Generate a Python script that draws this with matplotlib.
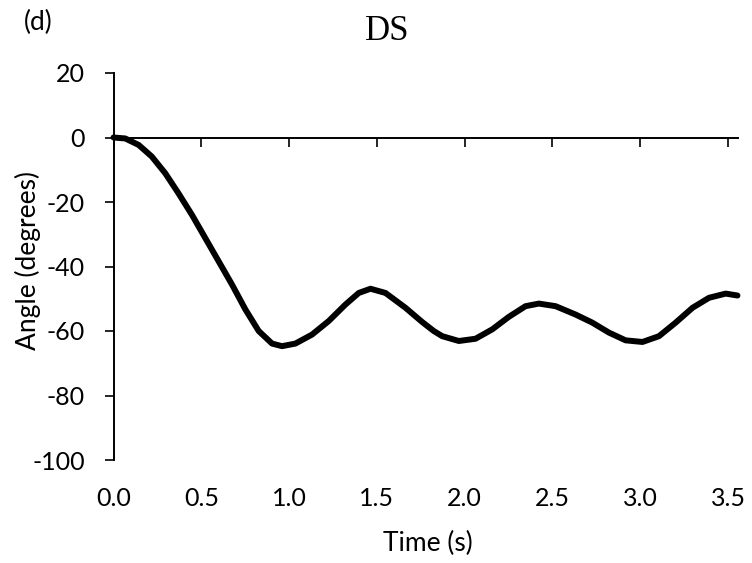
import matplotlib
matplotlib.use("Agg")
import matplotlib.pyplot as plt

# ---- data ----
time_s = [0.0, 0.067, 0.143, 0.218, 0.295, 0.370, 0.447, 0.523, 0.599, 0.675,
          0.751, 0.827, 0.903, 0.960, 1.036, 1.131, 1.226, 1.321, 1.397, 1.464,
          1.549, 1.663, 1.758, 1.824, 1.872, 1.967, 2.062, 2.157, 2.252, 2.347,
          2.423, 2.518, 2.632, 2.727, 2.822, 2.917, 3.013, 3.107, 3.202, 3.298,
          3.392, 3.487, 3.554]
angle_deg = [0.0, -0.3, -2.3, -5.9, -11.1, -17.3, -24.0, -31.2, -38.4, -45.6,
             -53.3, -60.0, -63.9, -64.7, -63.9, -61.1, -56.9, -51.8, -48.2, -46.9,
             -48.2, -52.8, -57.2, -60.0, -61.6, -63.1, -62.4, -59.5, -55.6, -52.3,
             -51.5, -52.3, -54.9, -57.4, -60.5, -62.9, -63.4, -61.6, -57.4, -52.8,
             -49.7, -48.4, -49.0]

x_ticks = [0.0, 0.5, 1.0, 1.5, 2.0, 2.5, 3.0, 3.5]
x_tick_labels = ["0.0", "0.5", "1.0", "1.5", "2.0", "2.5", "3.0", "3.5"]
y_ticks = [-100, -80, -60, -40, -20, 0, 20]
y_tick_labels = ["-100", "-80", "-60", "-40", "-20", "0", "20"]
x_range = (0.0, 3.557)
y_range = (-100, 20)

title = "DS"
panel = "(d)"
x_label = "Time (s)"
y_label = "Angle (degrees)"

# ---- figure ----
plt.rcParams['font.family'] = ['Lato', 'DejaVu Sans']
W, H = 752, 563
fig = plt.figure(figsize=(W / 100, H / 100), dpi=100)
ax = fig.add_axes([113.5 / W, 1 - 460 / H, (738 - 113.5) / W, (460 - 73) / H])

ax.plot(time_s, angle_deg, color='black', lw=4.3, solid_joinstyle='round',
        solid_capstyle='round', clip_on=False, zorder=3)

ax.set_xlim(*x_range)
ax.set_ylim(*y_range)

for s in ['top', 'right']:
    ax.spines[s].set_visible(False)
ax.spines['bottom'].set_position(('data', 0))
ax.spines['left'].set_linewidth(1.4)
ax.spines['bottom'].set_linewidth(1.4)

ax.set_xticks(x_ticks)
ax.set_xticklabels(x_tick_labels)
ax.set_yticks(y_ticks)
ax.set_yticklabels(y_tick_labels)

ax.tick_params(axis='x', direction='out', length=6.5, width=1.2, pad=245,
               labelsize=18)
ax.tick_params(axis='y', direction='out', length=6.5, width=1.2, pad=14,
               labelsize=18)

ax.set_xlabel(x_label, fontsize=19)
ax.xaxis.set_label_coords((427.5 - 113.5) / (738 - 113.5), (460 - 543) / (460 - 73))
ax.xaxis.label.set_verticalalignment('center')

ax.set_ylabel(y_label, fontsize=19, va='center')
ax.yaxis.set_label_coords((28 - 113.5) / (738 - 113.5), (460 - 261) / (460 - 73))

fig.text(387 / W, 1 - 31 / H, title, family='Liberation Serif', size=25,
         ha='center', va='center')
fig.text(38 / W, 1 - 22 / H, panel, size=19, ha='center', va='center')

fig.savefig("out.png", dpi=100)
